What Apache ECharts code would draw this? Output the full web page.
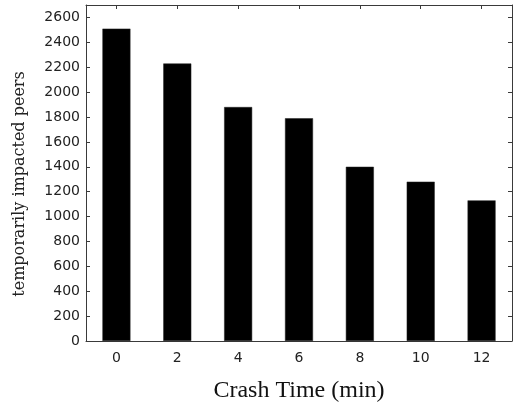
<!DOCTYPE html>
<html>
<head>
<meta charset="utf-8">
<script src="https://cdn.jsdelivr.net/npm/echarts@6/dist/echarts.min.js"></script>
<style>
  html, body { margin: 0; padding: 0; background: #fff; }
  #chart { width: 514px; height: 408px; }
</style>
</head>
<body>
<div id="chart"></div>
<script>
// Crash time (minutes) and number of temporarily impacted peers
const crashTimes = ['0', '2', '4', '6', '8', '10', '12'];
const impactedPeers = [2510, 2230, 1880, 1790, 1400, 1280, 1130];

const axisColor = '#3a3a3a';
const tickFont = { fontFamily: 'DejaVu Sans', fontSize: 14, color: '#222' };

const chart = echarts.init(document.getElementById('chart'), null, { renderer: 'canvas' });
chart.setOption({
  animation: false,
  backgroundColor: '#fff',
  grid: { left: 86, right: 2, top: 5, bottom: 65, containLabel: false },
  xAxis: [
    {
      type: 'category',
      data: crashTimes,
      position: 'bottom',
      boundaryGap: true,
      name: 'Crash Time (min)',
      nameLocation: 'middle',
      nameGap: 38,
      nameTextStyle: { fontFamily: 'Liberation Serif', fontSize: 24, color: '#111' },
      axisLine: { show: true, onZero: false, lineStyle: { color: axisColor, width: 1 } },
      axisTick: { show: false },
      axisLabel: Object.assign({ margin: 10 }, tickFont),
      splitLine: { show: false }
    },
    {
      type: 'category',
      data: crashTimes,
      position: 'top',
      boundaryGap: true,
      axisLine: { show: true, onZero: false, lineStyle: { color: axisColor, width: 1 } },
      axisTick: { show: true, inside: true, alignWithLabel: true, length: 4, lineStyle: { color: axisColor } },
      axisLabel: { show: false },
      splitLine: { show: false }
    }
  ],
  yAxis: [
    {
      type: 'value',
      position: 'left',
      min: 0,
      max: 2700,
      interval: 200,
      name: 'temporarily impacted peers',
      nameLocation: 'middle',
      nameGap: 58,
      nameRotate: 90,
      nameTextStyle: {
        fontFamily: 'DejaVu Serif', fontSize: 16, color: '#222',
        padding: [0, 22, 0, 0]
      },
      axisLine: { show: true, onZero: false, lineStyle: { color: axisColor, width: 1 } },
      axisTick: { show: true, inside: true, length: 4, lineStyle: { color: axisColor } },
      axisLabel: Object.assign({ margin: 6, showMaxLabel: false, formatter: v => String(v) }, tickFont),
      splitLine: { show: false }
    },
    {
      type: 'value',
      position: 'right',
      min: 0,
      max: 2700,
      interval: 200,
      axisLine: { show: true, onZero: false, lineStyle: { color: axisColor, width: 1 } },
      axisTick: { show: true, inside: true, length: 4, lineStyle: { color: axisColor } },
      axisLabel: { show: false },
      splitLine: { show: false }
    }
  ],
  series: [
    {
      type: 'bar',
      data: impactedPeers,
      xAxisIndex: 0,
      yAxisIndex: 0,
      barWidth: 28,
      itemStyle: { color: '#000', borderColor: '#222', borderWidth: 0.5 }
    }
  ]
});
</script>
</body>
</html>
